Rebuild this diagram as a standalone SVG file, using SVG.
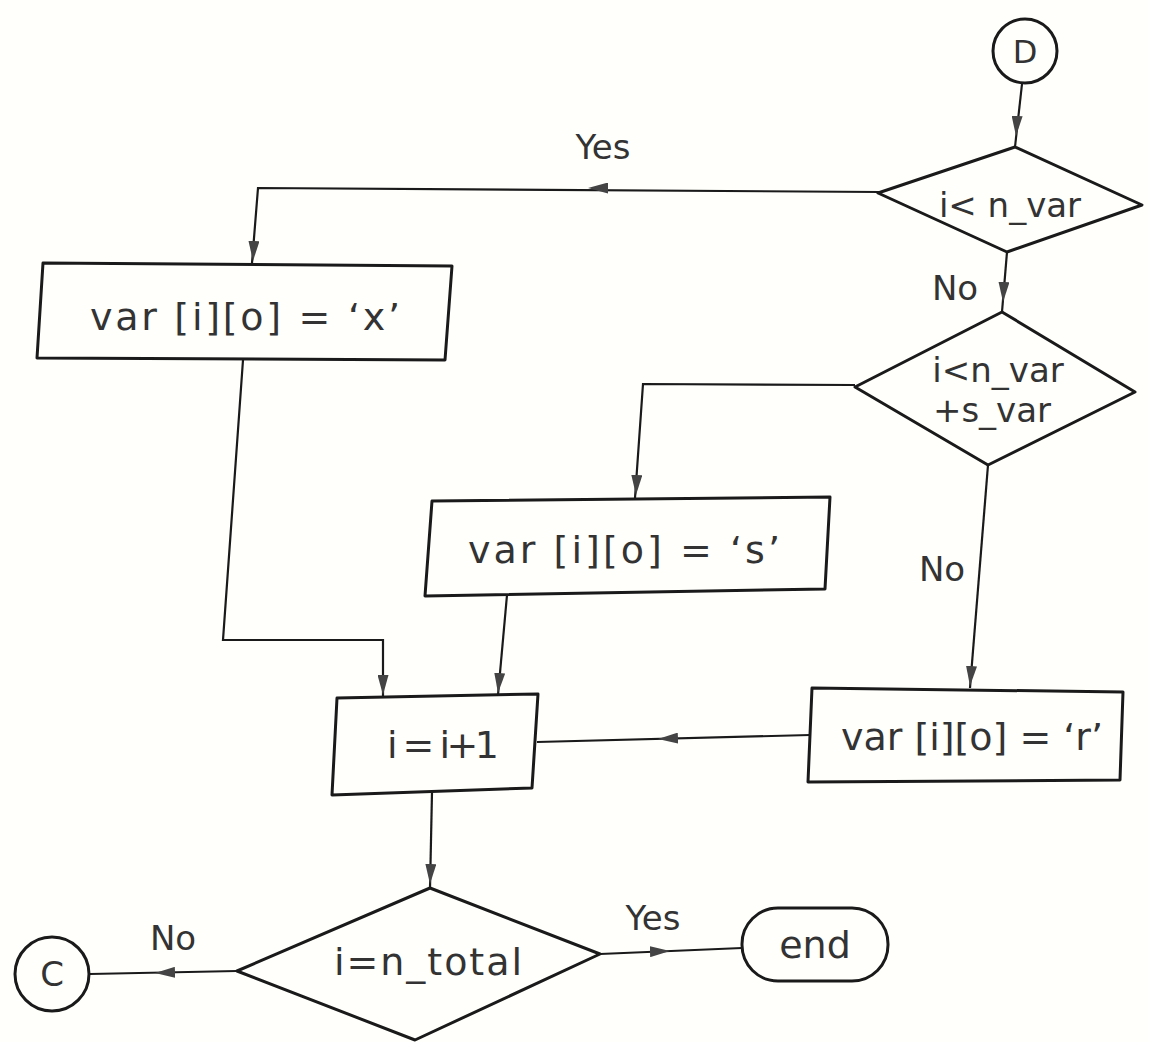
<svg xmlns="http://www.w3.org/2000/svg" width="1149" height="1042" viewBox="0 0 1149 1042">
<defs>
<style>
.shape{fill:none;stroke:#1a1a1a;stroke-width:3;stroke-linejoin:round}
.conn{fill:none;stroke:#1a1a1a;stroke-width:2.2}
.ah{fill:none;stroke:none}
text{font-family:"DejaVu Sans","Liberation Sans",sans-serif;fill:#333;text-anchor:middle}
.t{font-size:38px}
.lbl{font-size:34px}
</style>
<marker id="arr" viewBox="0 0 20 11" refX="20" refY="5.5" markerWidth="20" markerHeight="11" markerUnits="userSpaceOnUse" orient="auto">
<path d="M0,0 L20,5.5 L0,11 z" fill="#444"/>
</marker>
</defs>
<rect width="1149" height="1042" fill="#fffffc"/>

<g id="connectors">
<path class="conn" d="M1022,84 L1015,147"/>
<path class="ah" d="M1017,118 L1016,136" marker-end="url(#arr)"/>
<path class="conn" d="M880,192 L258,188 L252,263"/>
<path class="ah" d="M610,188 L588,188" marker-end="url(#arr)"/>
<path class="ah" d="M254,240 L253,261" marker-end="url(#arr)"/>
<path class="conn" d="M1007,252 L1002,312"/>
<path class="ah" d="M1004,282 L1003,302" marker-end="url(#arr)"/>
<path class="conn" d="M855,385 L643,384 L635,498"/>
<path class="ah" d="M637,470 L636,495" marker-end="url(#arr)"/>
<path class="conn" d="M988,465 L970,688"/>
<path class="ah" d="M972,660 L970,686" marker-end="url(#arr)"/>
<path class="conn" d="M243,360 L223,640 L383,640 L383,697"/>
<path class="ah" d="M383,670 L383,695" marker-end="url(#arr)"/>
<path class="conn" d="M507,595 L498,695"/>
<path class="ah" d="M500,670 L498,693" marker-end="url(#arr)"/>
<path class="conn" d="M810,735 L537,742"/>
<path class="ah" d="M680,738 L658,739" marker-end="url(#arr)"/>
<path class="conn" d="M432,792 L430,888"/>
<path class="ah" d="M431,860 L430,884" marker-end="url(#arr)"/>
<path class="conn" d="M237,971 L90,974"/>
<path class="ah" d="M185,972 L155,973" marker-end="url(#arr)"/>
<path class="conn" d="M600,954 L742,948"/>
<path class="ah" d="M640,952 L670,951" marker-end="url(#arr)"/>
</g>

<g id="node-D">
<circle class="shape" cx="1025" cy="51" r="32"/>
<text x="1025" y="63" font-size="32">D</text>
</g>

<g id="node-cond1">
<polygon class="shape" points="1015,147 1142,205 1007,252 878,193"/>
<text class="lbl" x="1010" y="217">i&lt; n_var</text>
</g>

<g id="node-cond2">
<polygon class="shape" points="1002,312 1135,392 988,465 855,387"/>
<text class="lbl" x="998" y="382">i&lt;n_var</text>
<text class="lbl" x="992" y="422">+s_var</text>
</g>

<g id="node-x">
<polygon class="shape" points="43,263 452,266 445,360 37,358"/>
<text class="t" x="245" y="330" textLength="310" lengthAdjust="spacing">var [i][o] = ‘x’</text>
</g>

<g id="node-s">
<polygon class="shape" points="432,501 830,497 825,589 425,596"/>
<text class="t" x="624" y="563" textLength="312" lengthAdjust="spacing">var [i][o] = ‘s’</text>
</g>

<g id="node-r">
<polygon class="shape" points="812,688 1123,692 1120,780 808,782"/>
<text class="t" x="972" y="750" textLength="262" lengthAdjust="spacing">var [i][o] = ‘r’</text>
</g>

<g id="node-inc">
<polygon class="shape" points="337,698 538,694 532,788 332,795"/>
<text class="t" x="443" y="758" textLength="112" lengthAdjust="spacing">i = i+1</text>
</g>

<g id="node-cond3">
<polygon class="shape" points="430,888 600,954 415,1040 237,971"/>
<text class="t" x="428" y="975" textLength="188" lengthAdjust="spacing">i=n_total</text>
</g>

<g id="node-C">
<circle class="shape" cx="52" cy="974" r="37"/>
<text class="lbl" x="52" y="986">C</text>
</g>

<g id="node-end">
<rect class="shape" x="742" y="908" width="146" height="73" rx="36" ry="36"/>
<text class="t" x="815" y="958">end</text>
</g>

<g id="labels">
<text class="lbl" x="603" y="159">Yes</text>
<text class="lbl" x="955" y="300">No</text>
<text class="lbl" x="942" y="581">No</text>
<text class="lbl" x="173" y="950">No</text>
<text class="lbl" x="653" y="930">Yes</text>
</g>
</svg>
